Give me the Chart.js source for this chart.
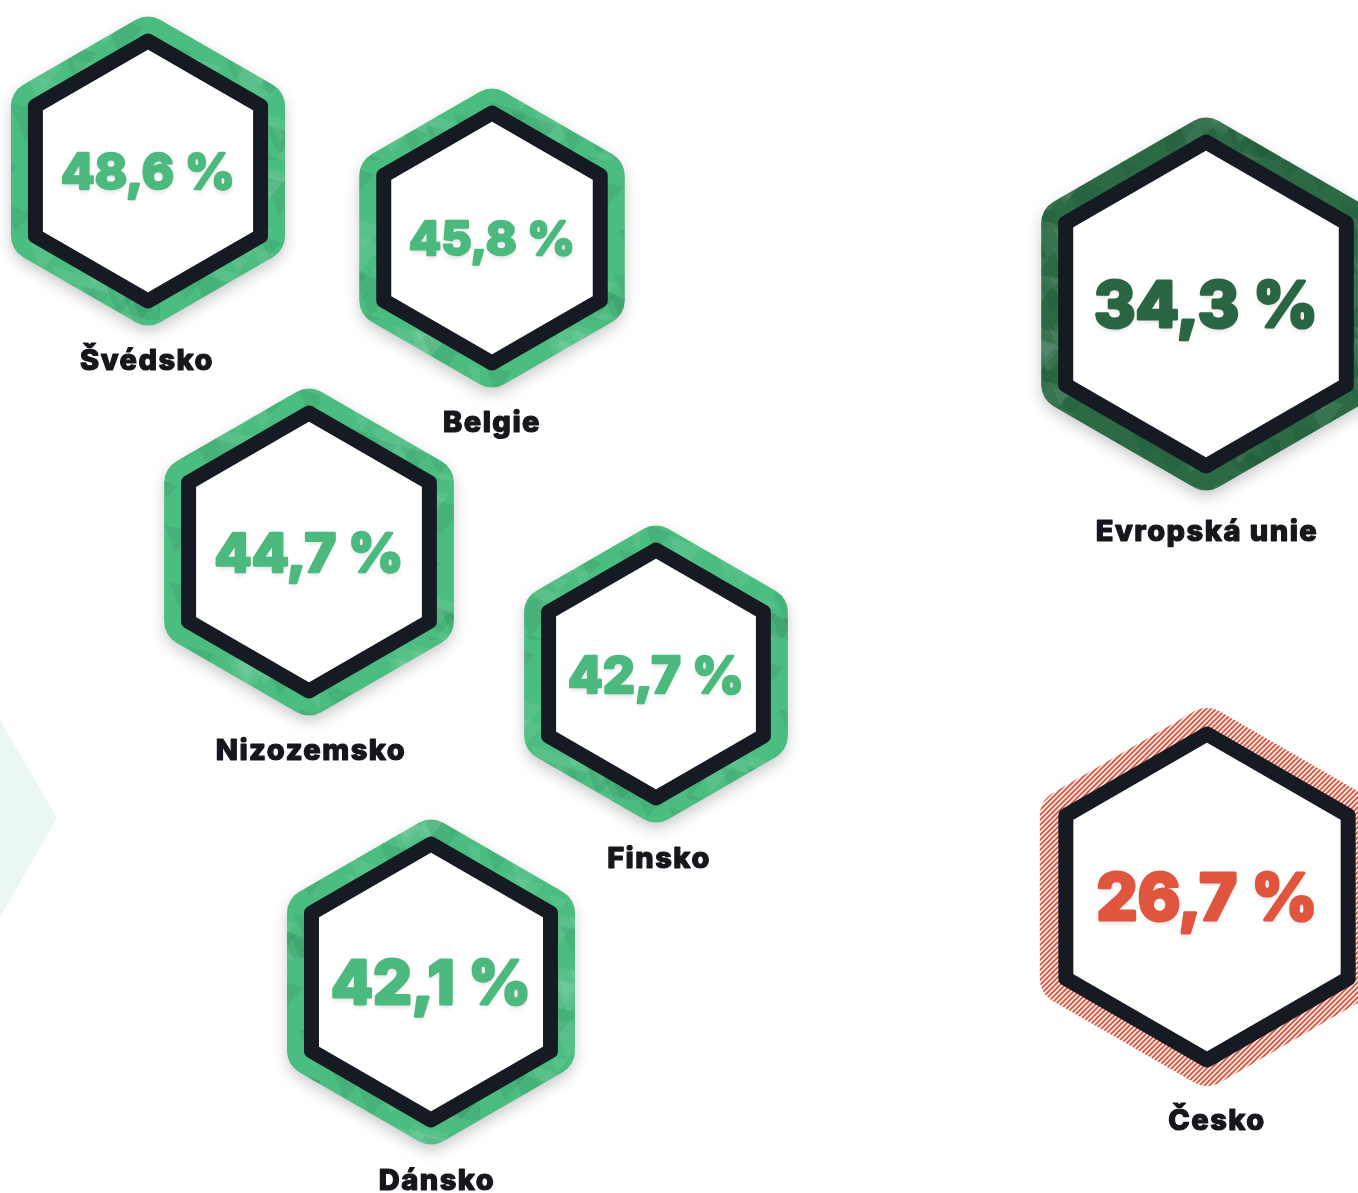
<!DOCTYPE html>
<html lang="cs">
<head>
<meta charset="utf-8">
<title>Podíl – hexagony</title>
<script src="https://cdn.jsdelivr.net/npm/chart.js@4.4.1/dist/chart.umd.min.js"></script>
<style>
  html, body { margin: 0; padding: 0; background: #fff; overflow: hidden; }
  #hex-chart { display: block; }
</style>
</head>
<body>
<canvas id="hex-chart" width="1358" height="1193"></canvas>
<script>
// data
const zeme = ['Švédsko', 'Belgie', 'Nizozemsko', 'Finsko', 'Dánsko', 'Evropská unie', 'Česko'];
const podil = [48.6, 45.8, 44.7, 42.7, 42.1, 34.3, 26.7];
const skupina = ['top', 'top', 'top', 'top', 'top', 'eu', 'cz'];

// rozvržení (souřadnice na skrytých osách, velikosti)
const poziceX = [148, 492, 309, 656, 431, 1206, 1207];
const poziceY = [171, 238, 552, 674, 982, 304, 897];
const polomer = [130, 125, 139, 124, 138, 162, 163];
const sirkaTextu = [178, 170, 193, 180, 204, 228, 225];
const posunPopisku = [-1, 0, 2, 3, 6, 1, 10];
const odsazeniPopisku = [69, 69, 69, 70, 70, 75, 70];

const barvy = {
    top: { ring: '#4cbd80', text: '#4cb97f' },
    eu: { ring: '#2b6a45', text: '#2a6544' },
    cz: { ring: '#d9553e', text: '#e0553e' }
};
const cerna = '#161a22';
const pismo = 'Inter, "Open Sans", "DejaVu Sans", sans-serif';

// "mramorová" textura prstence
function mramor(zaklad) {
    const c = document.createElement('canvas');
    c.width = 160; c.height = 160;
    const g = c.getContext('2d');
    g.fillStyle = zaklad;
    g.fillRect(0, 0, 160, 160);
    for (let i = 0; i < 36; i++) {
        const a = Math.abs(Math.sin(i * 12.9898) * 43758.5453) % 1;
        const b = Math.abs(Math.sin(i * 78.233) * 24634.6345) % 1;
        const s = 18 + 30 * ((a + b) % 1);
        g.fillStyle = i % 2 ? 'rgba(255,255,255,0.07)' : 'rgba(0,40,20,0.08)';
        g.beginPath();
        g.moveTo(a * 160, b * 160);
        g.lineTo(a * 160 + s, b * 160 + s * 0.3);
        g.lineTo(a * 160 + s * 0.4, b * 160 + s);
        g.closePath();
        g.fill();
    }
    return g.createPattern(c, 'repeat');
}

function srafovani(barva) {
    const c = document.createElement('canvas');
    c.width = 5; c.height = 5;
    const g = c.getContext('2d');
    g.fillStyle = '#fbeeea';
    g.fillRect(0, 0, 5, 5);
    g.strokeStyle = barva;
    g.lineWidth = 1.8;
    g.beginPath();
    g.moveTo(-1, 6); g.lineTo(6, -1);
    g.moveTo(-1, 1); g.lineTo(1, -1);
    g.moveTo(4, 6); g.lineTo(6, 4);
    g.stroke();
    return g.createPattern(c, 'repeat');
}

function hexCesta(ctx, cx, cy, r) {
    ctx.beginPath();
    for (let k = 0; k < 6; k++) {
        const uhel = (-90 + 60 * k) * Math.PI / 180;
        const px = cx + r * Math.cos(uhel);
        const py = cy + r * Math.sin(uhel);
        if (k === 0) ctx.moveTo(px, py); else ctx.lineTo(px, py);
    }
    ctx.closePath();
}

// tučnější text: výplň + tah stejnou barvou
function tucnyText(ctx, text, x, y, barva, tah) {
    ctx.fillStyle = barva;
    ctx.fillText(text, x, y);
    ctx.shadowColor = 'transparent';
    ctx.strokeStyle = barva;
    ctx.lineWidth = tah;
    ctx.lineJoin = 'round';
    ctx.strokeText(text, x, y);
}

const pozadiPlugin = {
    id: 'pozadi',
    beforeDatasetsDraw(chart) {
        const { ctx, scales: { x, y } } = chart;
        ctx.save();
        ctx.fillStyle = '#eaf6f0';
        ctx.beginPath();
        ctx.moveTo(x.getPixelForValue(-60), y.getPixelForValue(720));
        ctx.lineTo(x.getPixelForValue(0), y.getPixelForValue(720));
        ctx.lineTo(x.getPixelForValue(57), y.getPixelForValue(818));
        ctx.lineTo(x.getPixelForValue(0), y.getPixelForValue(917));
        ctx.lineTo(x.getPixelForValue(-60), y.getPixelForValue(917));
        ctx.closePath();
        ctx.fill();
        ctx.restore();
    }
};

const hexPlugin = {
    id: 'hexagony',
    afterDatasetsDraw(chart) {
        const { ctx, scales: { x } } = chart;
        const meritko = x.getPixelForValue(1) - x.getPixelForValue(0);
        const vzory = { top: mramor(barvy.top.ring), eu: mramor(barvy.eu.ring), cz: srafovani(barvy.cz.ring) };
        chart.getDatasetMeta(0).data.forEach((bod, i) => {
            const cx = bod.x, cy = bod.y;
            const r = polomer[i] * meritko;
            const sk = skupina[i];
            ctx.save();
            ctx.lineJoin = 'round';
            // prstenec se stínem
            hexCesta(ctx, cx, cy, r);
            if (sk !== 'cz') {
                ctx.shadowColor = 'rgba(0,0,0,0.20)';
                ctx.shadowBlur = 14;
                ctx.shadowOffsetY = 6;
            }
            ctx.strokeStyle = vzory[sk];
            ctx.lineWidth = sk === 'cz' ? 52 : 49;
            ctx.stroke();
            ctx.shadowColor = 'transparent';
            // vnitřek
            ctx.fillStyle = '#ffffff';
            ctx.fill();
            ctx.strokeStyle = cerna;
            ctx.lineWidth = 15;
            ctx.stroke();

            // hodnota
            const text = podil[i].toFixed(1).replace('.', ',') + ' %';
            ctx.font = '800 50px ' + pismo;
            ctx.letterSpacing = '0px';
            const fs = 50 * (sirkaTextu[i] - 4) / ctx.measureText(text).width;
            ctx.font = '800 ' + fs.toFixed(1) + 'px ' + pismo;
            ctx.textAlign = 'center';
            ctx.textBaseline = 'alphabetic';
            ctx.shadowColor = 'rgba(0,0,0,0.14)';
            ctx.shadowBlur = 5;
            ctx.shadowOffsetY = 3;
            tucnyText(ctx, text, cx, cy + fs * 0.33 + 2, barvy[sk].text, fs * 0.05);

            // popisek
            ctx.shadowColor = 'transparent';
            ctx.font = '800 29px ' + pismo;
            ctx.letterSpacing = '1.5px';
            tucnyText(ctx, zeme[i], cx + posunPopisku[i], cy + r + odsazeniPopisku[i], '#15171c', 1.2);
            ctx.restore();
        });
    }
};

new Chart(document.getElementById('hex-chart'), {
    type: 'scatter',
    data: {
        datasets: [{
            label: 'Podíl',
            data: zeme.map((z, i) => ({ x: poziceX[i], y: poziceY[i] })),
            pointRadius: 0,
            pointHoverRadius: 0
        }]
    },
    options: {
        responsive: false,
        animation: false,
        layout: { padding: 0 },
        plugins: {
            legend: { display: false },
            tooltip: { enabled: false }
        },
        scales: {
            x: { type: 'linear', min: 0, max: 1358, display: false },
            y: { type: 'linear', min: 0, max: 1193, reverse: true, display: false }
        }
    },
    plugins: [pozadiPlugin, hexPlugin]
});
</script>
</body>
</html>
